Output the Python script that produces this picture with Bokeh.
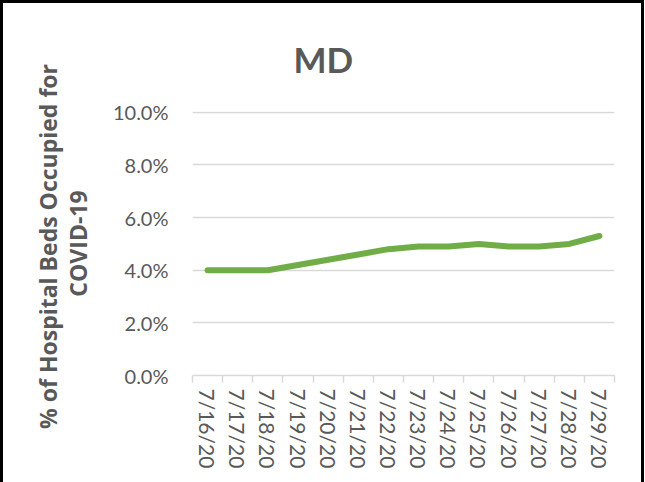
import math
from bokeh.plotting import figure
from bokeh.models import FixedTicker, NumeralTickFormatter, Range1d, ColumnDataSource
from bokeh.embed import file_html
from bokeh.resources import INLINE

# ---- data ----
dates = ["7/16/20", "7/17/20", "7/18/20", "7/19/20", "7/20/20", "7/21/20", "7/22/20",
         "7/23/20", "7/24/20", "7/25/20", "7/26/20", "7/27/20", "7/28/20", "7/29/20"]
pct_occupied = [0.040, 0.040, 0.040, 0.042, 0.044, 0.046, 0.048,
                0.049, 0.049, 0.050, 0.049, 0.049, 0.050, 0.053]
y_ticks = [0.0, 0.02, 0.04, 0.06, 0.08, 0.10]
title_text = "MD"
y_label = "% of Hospital Beds Occupied  for\nCOVID-19"

GREY = "#595959"
FONT = "Lato"

idx = list(range(len(dates)))
src = ColumnDataSource(dict(x=idx, y=pct_occupied))

p = figure(width=644, height=482, output_backend="svg", toolbar_location=None,
           x_range=Range1d(-0.5, len(dates) - 0.5), y_range=Range1d(0, 0.1003),
           min_border_left=189, min_border_right=33, min_border_top=108, min_border_bottom=110)

p.styles = {"border-top": "3px solid black", "border-left": "3px solid black",
            "border-right": "3px solid black"}

p.outline_line_color = None
p.background_fill_color = "white"
p.border_fill_color = "white"

# title
p.title.text = title_text
p.title.text_font = FONT
p.title.text_font_size = "35px"
p.title.text_font_style = "bold"
p.title.text_color = GREY
p.title.align = "left"
p.title.offset = 101
p.title.standoff = 63

# y axis
p.yaxis.ticker = FixedTicker(ticks=y_ticks)
p.yaxis.formatter = NumeralTickFormatter(format="0.0%")
p.yaxis.axis_line_color = None
p.yaxis.major_tick_line_color = None
p.yaxis.minor_tick_line_color = None
p.yaxis.major_label_text_font = FONT
p.yaxis.major_label_text_font_size = "20px"
p.yaxis.major_label_text_color = GREY
p.yaxis.major_label_standoff = 18
p.yaxis.axis_label = y_label
p.yaxis.axis_label_text_font = "Open Sans"
p.yaxis.axis_label_text_font_size = "23px"
p.yaxis.axis_label_text_font_style = "bold"
p.yaxis.axis_label_text_color = GREY
p.yaxis.axis_label_text_line_height = 0.92
p.yaxis.axis_label_standoff = 16

# x axis
boundaries = [i - 0.5 for i in range(len(dates) + 1)]
p.xaxis.ticker = FixedTicker(ticks=idx, minor_ticks=boundaries)
p.xaxis.major_label_overrides = {i: d for i, d in enumerate(dates)}
p.xaxis.major_label_orientation = "vertical"
p.xaxis.major_label_text_font = FONT
p.xaxis.major_label_text_font_size = "21px"
p.xaxis.major_label_text_color = GREY
p.xaxis.major_label_standoff = 6
p.xaxis.axis_line_color = "#d9d9d9"
p.xaxis.axis_line_width = 1.5
p.xaxis.major_tick_line_color = None
p.xaxis.minor_tick_line_color = "#d9d9d9"
p.xaxis.minor_tick_line_width = 1.5
p.xaxis.minor_tick_in = 0
p.xaxis.minor_tick_out = 7

p.xgrid.grid_line_color = None
p.ygrid.grid_line_color = "#d9d9d9"
p.ygrid.grid_line_width = 1.5

p.line("x", "y", source=src, line_color="#70AD47", line_width=6,
       line_cap="round", line_join="round")

open("out.html", "w").write(file_html(p, INLINE))
